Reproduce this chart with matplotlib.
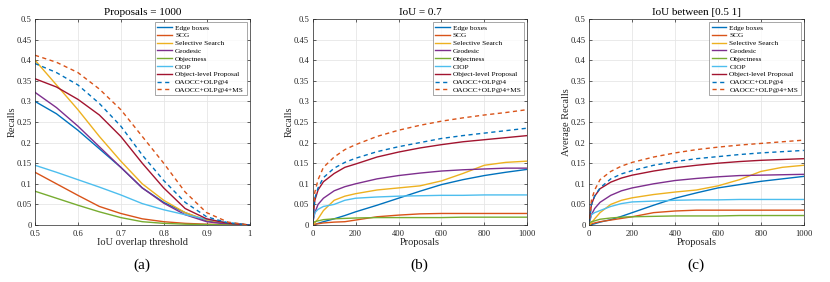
import matplotlib
matplotlib.use("Agg")
import matplotlib.pyplot as plt
import numpy as np

plt.rcParams['font.family'] = ['Liberation Serif', 'DejaVu Serif']

names = ["Edge boxes", "SCG", "Selective Search", "Geodesic", "Objectness", "CIOP",
         "Object-level Proposal", "OAOCC+OLP@4", "OAOCC+OLP@4+MS"]
colors = ["#0072BD", "#D95319", "#EDB120", "#7E2F8E", "#77AC30", "#4DBEEE",
          "#A2142F", "#0072BD", "#D95319"]
styles = ["-"] * 7 + ["--", "--"]

# (a) recall vs IoU threshold, 1000 proposals
iou = [0.5, 0.55, 0.6, 0.65, 0.7, 0.75, 0.8, 0.85, 0.9, 0.95, 1.0]
a_edge = [0.30, 0.27, 0.23, 0.185, 0.14, 0.09, 0.055, 0.03, 0.01, 0.003, 0.0]
a_scg = [0.128, 0.10, 0.072, 0.045, 0.028, 0.015, 0.008, 0.004, 0.002, 0.001, 0.0]
a_ss = [0.40, 0.34, 0.28, 0.215, 0.155, 0.10, 0.06, 0.03, 0.012, 0.004, 0.0]
a_geo = [0.322, 0.285, 0.24, 0.19, 0.14, 0.09, 0.053, 0.025, 0.008, 0.002, 0.0]
a_obj = [0.082, 0.065, 0.048, 0.032, 0.018, 0.008, 0.004, 0.002, 0.001, 0.0, 0.0]
a_ciop = [0.145, 0.128, 0.11, 0.092, 0.073, 0.052, 0.037, 0.025, 0.014, 0.006, 0.0]
a_olp = [0.355, 0.335, 0.305, 0.267, 0.215, 0.15, 0.09, 0.04, 0.015, 0.004, 0.0]
a_oa = [0.392, 0.37, 0.34, 0.295, 0.24, 0.17, 0.108, 0.055, 0.02, 0.005, 0.0]
a_oams = [0.412, 0.395, 0.37, 0.33, 0.28, 0.215, 0.15, 0.08, 0.03, 0.007, 0.0]

# (b) recall vs proposals, IoU = 0.7
props = [0, 10, 25, 50, 100, 150, 200, 300, 400, 500, 600, 700, 800, 900, 1000]
b_edge = [0.0, 0.001, 0.004, 0.008, 0.015, 0.023, 0.032, 0.048, 0.065, 0.082, 0.098, 0.11, 0.12, 0.128, 0.135]
b_scg = [0.0, 0.002, 0.003, 0.005, 0.007, 0.008, 0.012, 0.02, 0.024, 0.027, 0.028, 0.028, 0.028, 0.028, 0.028]
b_ss = [0.0, 0.005, 0.015, 0.035, 0.06, 0.07, 0.076, 0.085, 0.09, 0.095, 0.107, 0.125, 0.145, 0.152, 0.155]
b_geo = [0.005, 0.03, 0.05, 0.065, 0.083, 0.093, 0.10, 0.112, 0.12, 0.126, 0.131, 0.134, 0.136, 0.138, 0.138]
b_obj = [0.005, 0.008, 0.01, 0.013, 0.015, 0.016, 0.017, 0.018, 0.018, 0.018, 0.018, 0.019, 0.019, 0.019, 0.019]
b_ciop = [0.01, 0.03, 0.038, 0.045, 0.05, 0.06, 0.065, 0.068, 0.07, 0.071, 0.072, 0.072, 0.073, 0.073, 0.073]
b_olp = [0.01, 0.06, 0.085, 0.105, 0.125, 0.14, 0.148, 0.165, 0.177, 0.187, 0.195, 0.202, 0.207, 0.212, 0.217]
b_oa = [0.01, 0.065, 0.09, 0.115, 0.138, 0.152, 0.162, 0.178, 0.19, 0.20, 0.21, 0.217, 0.223, 0.229, 0.235]
b_oams = [0.02, 0.08, 0.11, 0.14, 0.165, 0.183, 0.195, 0.215, 0.23, 0.242, 0.252, 0.26, 0.267, 0.273, 0.28]

# (c) average recall vs proposals, IoU in [0.5 1]
c_edge = [0.0, 0.001, 0.003, 0.007, 0.013, 0.021, 0.03, 0.048, 0.065, 0.078, 0.09, 0.098, 0.106, 0.112, 0.118]
c_scg = [0.0, 0.003, 0.005, 0.008, 0.012, 0.016, 0.02, 0.03, 0.034, 0.036, 0.036, 0.036, 0.036, 0.036, 0.036]
c_ss = [0.0, 0.005, 0.015, 0.03, 0.05, 0.06, 0.066, 0.074, 0.08, 0.085, 0.095, 0.11, 0.13, 0.14, 0.145]
c_geo = [0.005, 0.025, 0.04, 0.055, 0.072, 0.083, 0.09, 0.10, 0.108, 0.113, 0.117, 0.12, 0.121, 0.122, 0.123]
c_obj = [0.005, 0.008, 0.01, 0.014, 0.017, 0.019, 0.02, 0.021, 0.022, 0.022, 0.022, 0.023, 0.023, 0.023, 0.023]
c_ciop = [0.008, 0.025, 0.03, 0.035, 0.045, 0.052, 0.056, 0.058, 0.06, 0.061, 0.061, 0.062, 0.062, 0.062, 0.062]
c_olp = [0.01, 0.05, 0.07, 0.088, 0.104, 0.114, 0.121, 0.131, 0.139, 0.145, 0.15, 0.154, 0.157, 0.159, 0.161]
c_oa = [0.01, 0.05, 0.07, 0.09, 0.112, 0.124, 0.132, 0.145, 0.154, 0.161, 0.166, 0.171, 0.175, 0.178, 0.181]
c_oams = [0.015, 0.06, 0.085, 0.11, 0.13, 0.143, 0.152, 0.165, 0.175, 0.183, 0.189, 0.194, 0.198, 0.202, 0.206]

panels = [
    dict(x=iou, ys=[a_edge, a_scg, a_ss, a_geo, a_obj, a_ciop, a_olp, a_oa, a_oams],
         title="Proposals = 1000", xlabel="IoU overlap threshold", ylabel="Recalls",
         xlim=(0.5, 1.0), xticks=[0.5, 0.6, 0.7, 0.8, 0.9, 1.0],
         xtl=["0.5", "0.6", "0.7", "0.8", "0.9", "1"], tag="(a)", left=35),
    dict(x=props, ys=[b_edge, b_scg, b_ss, b_geo, b_obj, b_ciop, b_olp, b_oa, b_oams],
         title="IoU = 0.7", xlabel="Proposals", ylabel="Recalls",
         xlim=(0, 1000), xticks=[0, 200, 400, 600, 800, 1000],
         xtl=["0", "200", "400", "600", "800", "1000"], tag="(b)", left=312.7),
    dict(x=props, ys=[c_edge, c_scg, c_ss, c_geo, c_obj, c_ciop, c_olp, c_oa, c_oams],
         title="IoU between [0.5 1]", xlabel="Proposals", ylabel="Average Recalls",
         xlim=(0, 1000), xticks=[0, 200, 400, 600, 800, 1000],
         xtl=["0", "200", "400", "600", "800", "1000"], tag="(c)", left=589.3),
]

W, H = 830, 282
fig = plt.figure(figsize=(W / 100, H / 100), dpi=100)
yticks = [0, 0.05, 0.1, 0.15, 0.2, 0.25, 0.3, 0.35, 0.4, 0.45, 0.5]
ytl = ["0", "0.05", "0.1", "0.15", "0.2", "0.25", "0.3", "0.35", "0.4", "0.45", "0.5"]
tc = "#262626"
for p in panels:
    ax = fig.add_axes([p["left"] / W, 1 - 225 / H, 214.5 / W, 206 / H])
    for y, n, c, s in zip(p["ys"], names, colors, styles):
        ax.plot(p["x"], y, color=c, linestyle=s, linewidth=1.0, label=n,
                dashes=(3, 2.5) if s == "--" else (None, None))
    ax.set_xlim(*p["xlim"])
    ax.set_ylim(0, 0.5)
    ax.set_xticks(p["xticks"])
    ax.set_xticklabels(p["xtl"])
    ax.set_yticks(yticks)
    ax.set_yticklabels(ytl)
    ax.grid(True, color="#e6e6e6", linewidth=0.6)
    ax.set_axisbelow(True)
    ax.tick_params(direction="in", length=2.5, width=0.5, labelsize=6.2, colors=tc,
                   top=True, right=True)
    ax.tick_params(axis="x", pad=3.5)
    ax.tick_params(axis="y", pad=2.5)
    for sp in ax.spines.values():
        sp.set_color(tc)
        sp.set_linewidth(0.5)
    ax.set_title(p["title"], fontsize=8, color="#000000", pad=3)
    ax.set_xlabel(p["xlabel"], fontsize=7.5, color=tc, labelpad=0)
    ax.set_ylabel(p["ylabel"], fontsize=7.5, color=tc, labelpad=0)
    leg = ax.legend(loc="upper right", fontsize=5.3, frameon=True, fancybox=False,
                    borderpad=0.35, labelspacing=0.22, handlelength=2.0,
                    handletextpad=0.4, borderaxespad=0.4)
    leg.get_frame().set_edgecolor("#7f7f7f")
    leg.get_frame().set_linewidth(0.6)
    cx = (p["left"] + 107) / W
    fig.text(cx, 1 - 265 / H, p["tag"], ha="center", va="center", fontsize=11)

fig.savefig("out.png", dpi=100)
